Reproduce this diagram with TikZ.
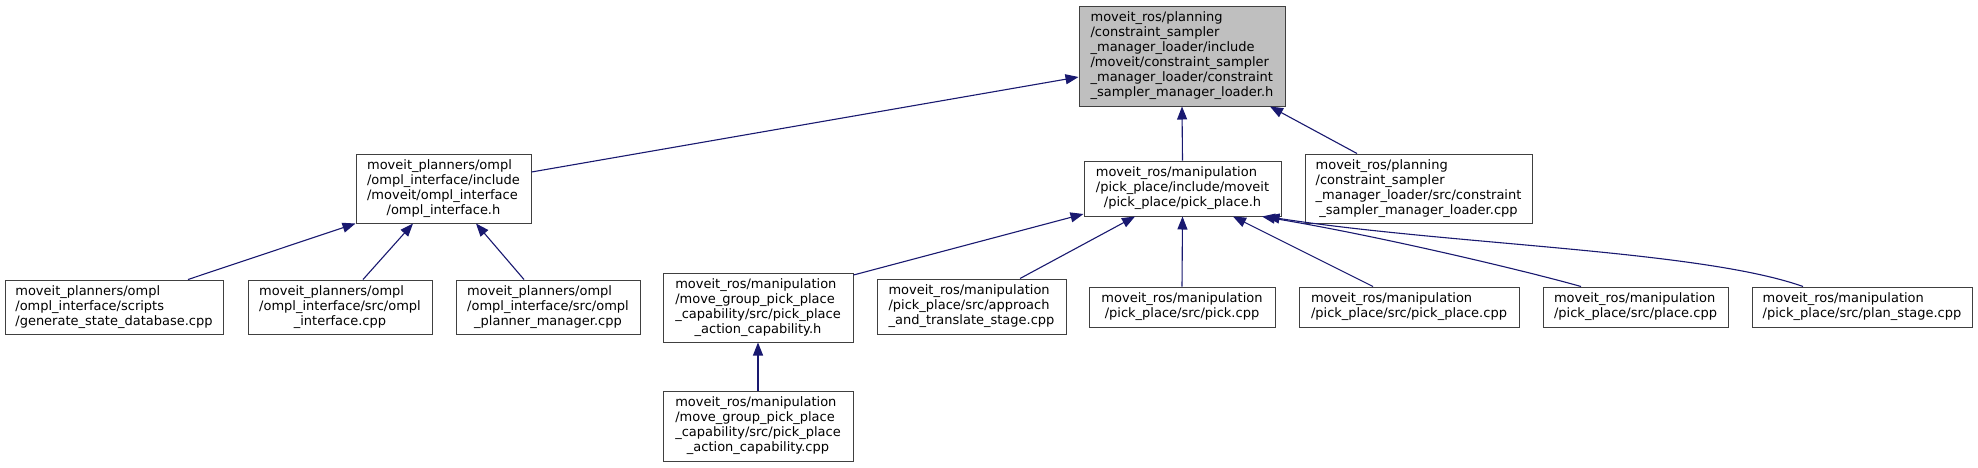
\documentclass[tikz,border=0pt]{standalone}
\usepackage{fontspec}
\setmainfont{DejaVu Sans}
\usetikzlibrary{arrows.meta}
\definecolor{edgeblue}{HTML}{191970}
\definecolor{boxline}{HTML}{404040}
\definecolor{rootfill}{HTML}{BFBFBF}
\newcommand{\flbl}[2]{\begin{tabular}{@{}l@{}}#1\\\multicolumn{1}{@{}c@{}}{#2}\end{tabular}}
\begin{document}
\begin{tikzpicture}[x=1pt,y=-1pt,
  file/.style={draw=boxline, line width=1pt, fill=white, inner sep=0pt,
    font=\fontsize{13}{15}\selectfont, text=black},
  dep/.style={draw=edgeblue, line width=1.1pt, -{Triangle[length=13pt,width=10pt]}, edgeblue},
]
\useasboundingbox[fill=white] (0,0) rectangle (1978,467);
% row 1
\node[file, fill=rootfill, minimum width=206pt, minimum height=100pt] (root) at (1182,56)
  {\flbl{moveit\_ros/planning\\/constraint\_sampler\\\_manager\_loader/include\\/moveit/constraint\_sampler\\\_manager\_loader/constraint}{\_sampler\_manager\_loader.h}};
% row 2
\node[file, minimum width=175pt, minimum height=69pt] (omplh) at (443.5,188.5)
  {\flbl{moveit\_planners/ompl\\/ompl\_interface/include\\/moveit/ompl\_interface}{/ompl\_interface.h}};
\node[file, minimum width=197pt, minimum height=55pt] (pph) at (1182.5,188.5)
  {\flbl{moveit\_ros/manipulation\\/pick\_place/include/moveit}{/pick\_place/pick\_place.h}};
\node[file, minimum width=227pt, minimum height=69pt] (cscpp) at (1418.5,188.5)
  {\flbl{moveit\_ros/planning\\/constraint\_sampler\\\_manager\_loader/src/constraint}{\_sampler\_manager\_loader.cpp}};
% row 3
\node[file, minimum width=218pt, minimum height=54pt] (gen) at (114,307)
  {\flbl{moveit\_planners/ompl\\/ompl\_interface/scripts}{/generate\_state\_database.cpp}};
\node[file, minimum width=184pt, minimum height=54pt] (oicpp) at (340,307)
  {\flbl{moveit\_planners/ompl\\/ompl\_interface/src/ompl}{\_interface.cpp}};
\node[file, minimum width=184pt, minimum height=54pt] (pmcpp) at (548,307)
  {\flbl{moveit\_planners/ompl\\/ompl\_interface/src/ompl}{\_planner\_manager.cpp}};
\node[file, minimum width=190pt, minimum height=69pt] (ach) at (758,307.5)
  {\flbl{moveit\_ros/manipulation\\/move\_group\_pick\_place\\\_capability/src/pick\_place}{\_action\_capability.h}};
\node[file, minimum width=189pt, minimum height=55pt] (apcpp) at (971.5,306.5)
  {\flbl{moveit\_ros/manipulation\\/pick\_place/src/approach}{\_and\_translate\_stage.cpp}};
\node[file, minimum width=186pt, minimum height=40pt] (pick) at (1182,307)
  {\flbl{moveit\_ros/manipulation}{/pick\_place/src/pick.cpp}};
\node[file, minimum width=220pt, minimum height=40pt] (ppcpp) at (1409,307)
  {\flbl{moveit\_ros/manipulation}{/pick\_place/src/pick\_place.cpp}};
\node[file, minimum width=185pt, minimum height=40pt] (place) at (1635.5,307)
  {\flbl{moveit\_ros/manipulation}{/pick\_place/src/place.cpp}};
\node[file, minimum width=220pt, minimum height=40pt] (plan) at (1862,307)
  {\flbl{moveit\_ros/manipulation}{/pick\_place/src/plan\_stage.cpp}};
% row 4
\node[file, minimum width=190pt, minimum height=70pt] (accpp) at (758,426)
  {\flbl{moveit\_ros/manipulation\\/move\_group\_pick\_place\\\_capability/src/pick\_place}{\_action\_capability.cpp}};
% edges
\draw[dep] ([yshift=16.5pt]omplh.east) -- ([yshift=-21pt]root.west);
\draw[dep] (pph.north) -- (root.south);
\draw[dep] ([xshift=-61.5pt]cscpp.north) -- ([xshift=88pt]root.south);
\draw[dep] ([xshift=74pt]gen.north) -- (omplh.south west);
\draw[dep] ([xshift=23pt]oicpp.north) -- ([xshift=-30.5pt]omplh.south);
\draw[dep] ([xshift=-24pt]pmcpp.north) -- ([xshift=32.5pt]omplh.south);
\draw[dep] ([yshift=32.5pt]ach.east) -- ([yshift=-25.5pt]pph.west);
\draw[dep] ([xshift=48.5pt]apcpp.north) -- ([xshift=-47.5pt]pph.south);
\draw[dep] (pick.north) -- (pph.south);
\draw[dep] ([xshift=-36pt]ppcpp.north) -- ([xshift=50.5pt]pph.south);
\draw[dep] ([xshift=-54.5pt]place.north) .. controls (1530,272) and (1380,236) .. ([xshift=79.5pt]pph.south);
\draw[dep] ([xshift=-59pt]plan.north) .. controls (1700,250) and (1450,245) .. ([xshift=84pt]pph.south);
\draw[dep] (accpp.north) -- (ach.south);
\end{tikzpicture}
\end{document}
